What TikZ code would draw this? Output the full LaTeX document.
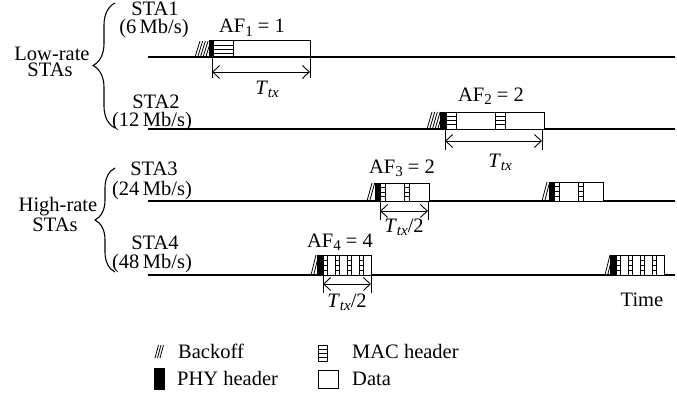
\documentclass[tikz,border=0pt]{standalone}
\usepackage{fontspec}
\setmainfont{Liberation Serif}
\usepackage{tikz}
\usetikzlibrary{arrows.meta, decorations.pathreplacing, positioning}
\tikzset{
  timeline/.style={line width=1.4pt, draw=black},
  databox/.style={line width=1pt, draw=black, fill=white},
  phyhdr/.style={line width=1pt, draw=black, fill=black},
  macline/.style={line width=0.7pt},
  hatch/.style={line width=0.8pt},
  txspan/.style={
    line width=0.9pt,
    {Straight Barb[length=7pt,width=13pt]}-{Straight Barb[length=7pt,width=13pt]}
  },
  txtick/.style={line width=0.9pt},
  rategroup/.style={
    line width=1.1pt,
    decorate,
    decoration={brace, amplitude=#1}
  },
  txt/.style={inner sep=0pt, anchor=base},
  lefttxt/.style={inner sep=0pt, anchor=base west}
}
\newcommand{\lowidx}[1]{\raisebox{-3.5pt}{\fontsize{15}{15}\selectfont #1}}
\newcommand{\Ttx}{\textit{T}\lowidx{\itshape tx}}
\newcommand{\backoffmarks}[4]{% first x, count, top y, bottom y
  \foreach \k in {1,...,#2}
    \draw[hatch] ({#1+2.7*(\k-1)},#4) -- ({#1+2.7*(\k-1)+5},#3);
}
\newcommand{\ampdu}[7]{% phy x, phy width, subframes, mac width, data width, top y, bottom y
  \filldraw[phyhdr] (#1,#6) rectangle ({#1+#2},#7);
  \foreach \k in {1,...,#3}{
    \pgfmathsetmacro{\xm}{#1+#2+(\k-1)*(#4+#5)}
    \draw[databox] (\xm,#6) rectangle ({\xm+#4},#7);
    \foreach \r in {1,2,3}
      \draw[macline] (\xm,{#6+\r*(#7-#6)/4}) -- ({\xm+#4},{#6+\r*(#7-#6)/4});
    \draw[databox] ({\xm+#4},#6) rectangle ({\xm+#4+#5},#7);
  }
}

\begin{document}
\begin{tikzpicture}[x=1pt, y=-1pt, font=\fontsize{20.5}{20.5}\selectfont]
  \useasboundingbox (0,0) rectangle (677,396);

  \node[txt] (low1) at (52,61) {Low-rate};
  \node[txt] (low2) at (50,77) {STAs};
  \node[txt] (high1) at (58,211) {High-rate};
  \node[txt] (high2) at (55,231) {STAs};
  \draw[rategroup=22pt] (115,128) -- (115,3);
  \draw[rategroup=20pt] (115,272) -- (115,168);

  \node[txt] (sta1) at (155,16) {STA1};
  \node[txt] (rate1) at (154,34) {(6\,Mb/s)};
  \node[txt] (sta2) at (156,108) {STA2};
  \node[txt] (rate2) at (152,126) {(12\,Mb/s)};
  \node[txt] (sta3) at (154,175) {STA3};
  \node[txt] (rate3) at (152,195) {(24\,Mb/s)};
  \node[txt] (sta4) at (155,249) {STA4};
  \node[txt] (rate4) at (152,268) {(48\,Mb/s)};

  \foreach \y/\n in {57/1, 129/2, 201/3, 275/4}
    \draw[timeline] (148,\y) coordinate (line\n start) -- (675,\y) coordinate (line\n end);

  \backoffmarks{195}{5}{41}{57}
  \ampdu{209}{4}{1}{20}{77}{41}{57}
  \backoffmarks{427}{5}{112}{129}
  \ampdu{440}{6}{2}{10}{39}{112}{129}
  \backoffmarks{367}{2}{183}{201}
  \ampdu{375}{5}{2}{5}{19.5}{183}{201}
  \backoffmarks{542}{2}{182}{201}
  \ampdu{549}{5}{2}{5}{19.5}{182}{201}
  \backoffmarks{311}{2}{255}{275}
  \ampdu{317}{6}{4}{4}{8}{255}{275}
  \backoffmarks{605}{2}{255}{275}
  \ampdu{610}{6}{4}{4}{8}{255}{275}

  \node[txt] (af1) at (252,33) {AF\lowidx{1} = 1};
  \node[txt] (af2) at (491,101) {AF\lowidx{2} = 2};
  \node[txt] (af3) at (402,173) {AF\lowidx{3} = 2};
  \node[txt] (af4) at (340,247) {AF\lowidx{4} = 4};

  \coordinate (tx1l) at (212,72);
  \coordinate (tx1r) at (310,72);
  \draw[txspan] (tx1l) -- (tx1r);
  \draw[txtick] (tx1l) ++(0,-15) -- ++(0,21);
  \draw[txtick] (tx1r) ++(0,-15) -- ++(0,21);
  \node[txt] (tx1) at (267,94) {\Ttx};

  \coordinate (tx2l) at (445,141);
  \coordinate (tx2r) at (542,141);
  \draw[txspan] (tx2l) -- (tx2r);
  \draw[txtick] (tx2l) ++(0,-12) -- ++(0,21);
  \draw[txtick] (tx2r) ++(0,-12) -- ++(0,21);
  \node[txt] (tx2) at (500,167) {\Ttx};

  \coordinate (tx3l) at (380,211);
  \coordinate (tx3r) at (428,211);
  \draw[txspan] (tx3l) -- (tx3r);
  \draw[txtick] (tx3l) ++(0,-10) -- ++(0,19);
  \draw[txtick] (tx3r) ++(0,-10) -- ++(0,19);
  \node[txt] (tx3) at (404,232) {\Ttx/2};

  \coordinate (tx4l) at (323,284);
  \coordinate (tx4r) at (371,284);
  \draw[txspan] (tx4l) -- (tx4r);
  \draw[txtick] (tx4l) ++(0,-9) -- ++(0,18);
  \draw[txtick] (tx4r) ++(0,-9) -- ++(0,18);
  \node[txt] (tx4) at (347,307) {\Ttx/2};

  \node[txt] (time) at (642,306) {Time};

  \foreach \k in {0,1,2}
    \draw[hatch] ({155+2.5*\k},358) -- ({158.5+2.5*\k},345);
  \node[lefttxt] (lgback) at (178,358) {Backoff};
  \draw[databox] (318,345) rectangle (327,361);
  \foreach \r in {349,353,357}
    \draw[macline] (318,\r) -- (327,\r);
  \node[lefttxt] (lgmac) at (352,358) {MAC header};
  \filldraw[phyhdr] (154,368) rectangle (164,389);
  \node[lefttxt] (lgphy) at (177,385) {PHY header};
  \draw[databox] (318,370) rectangle (338,388);
  \node[lefttxt] (lgdata) at (352,385) {Data};
\end{tikzpicture}
\end{document}
